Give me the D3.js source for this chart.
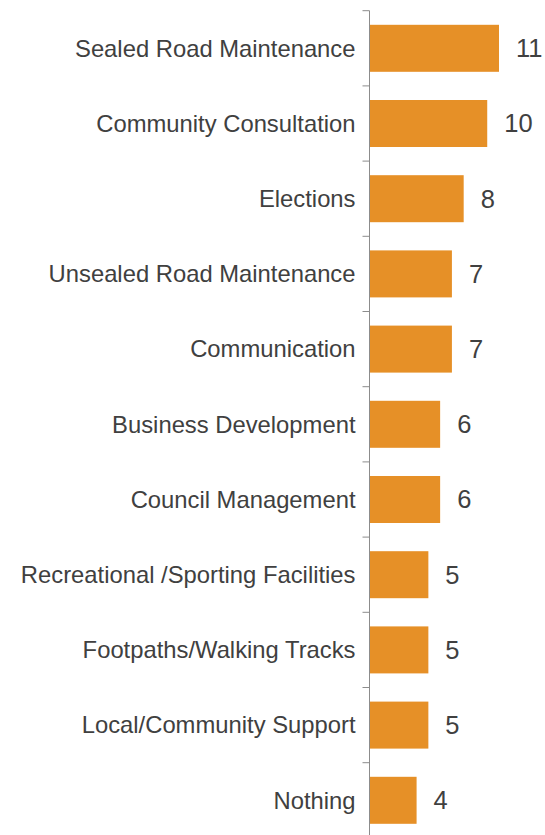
<!DOCTYPE html>
<html>
<head>
<meta charset="utf-8">
<script src="https://cdn.jsdelivr.net/npm/d3@7"></script>
<style>
  body { margin: 0; background: #fff; }
  svg { display: block; }
  text { font-family: "Liberation Sans", Arial, sans-serif; fill: #404040; }
</style>
</head>
<body>
<div id="chart"></div>
<script>
const categories = [
    "Sealed Road Maintenance",
    "Community Consultation",
    "Elections",
    "Unsealed Road Maintenance",
    "Communication",
    "Business Development",
    "Council Management",
    "Recreational /Sporting Facilities",
    "Footpaths/Walking Tracks",
    "Local/Community Support",
    "Nothing"
];
const values = [11, 10, 8, 7, 7, 6, 6, 5, 5, 5, 4];

const width = 545, height = 835;
const axisX = 369.5;

const svg = d3.select("#chart").append("svg")
    .attr("width", width)
    .attr("height", height);

const y = d3.scaleBand()
    .domain(categories)
    .range([10.7, 837.9])
    .paddingInner(0.375)
    .paddingOuter(0.1875);

const x = d3.scaleLinear()
    .domain([0, 11])
    .range([axisX, axisX + 129.5]);

const step = y.step();

// bars
svg.selectAll("rect.bar")
    .data(categories)
    .enter()
    .append("rect")
    .attr("class", "bar")
    .attr("x", x(0))
    .attr("y", d => y(d))
    .attr("width", (d, i) => x(values[i]) - x(0))
    .attr("height", y.bandwidth())
    .attr("fill", "#e69027");

// axis line and ticks between categories
svg.append("line")
    .attr("x1", axisX).attr("x2", axisX)
    .attr("y1", y.range()[0]).attr("y2", height)
    .attr("stroke", "#8c8c8c")
    .attr("stroke-width", 1);

svg.selectAll("line.tick")
    .data(categories)
    .enter()
    .append("line")
    .attr("class", "tick")
    .attr("x1", axisX - 7).attr("x2", axisX)
    .attr("y1", d => y(d) - step * 0.1875)
    .attr("y2", d => y(d) - step * 0.1875)
    .attr("stroke", "#8c8c8c")
    .attr("stroke-width", 1);

// category labels
svg.selectAll("text.cat")
    .data(categories)
    .enter()
    .append("text")
    .attr("class", "cat")
    .attr("x", axisX - 14)
    .attr("y", d => y(d) + y.bandwidth() / 2)
    .attr("dy", "0.35em")
    .attr("text-anchor", "end")
    .style("font-size", "23.8px")
    .text(d => d);

// value labels
svg.selectAll("text.val")
    .data(categories)
    .enter()
    .append("text")
    .attr("class", "val")
    .attr("x", (d, i) => x(values[i]) + 17)
    .attr("y", d => y(d) + y.bandwidth() / 2)
    .attr("dy", "0.35em")
    .style("font-size", "25.5px")
    .text((d, i) => values[i]);
</script>
</body>
</html>
